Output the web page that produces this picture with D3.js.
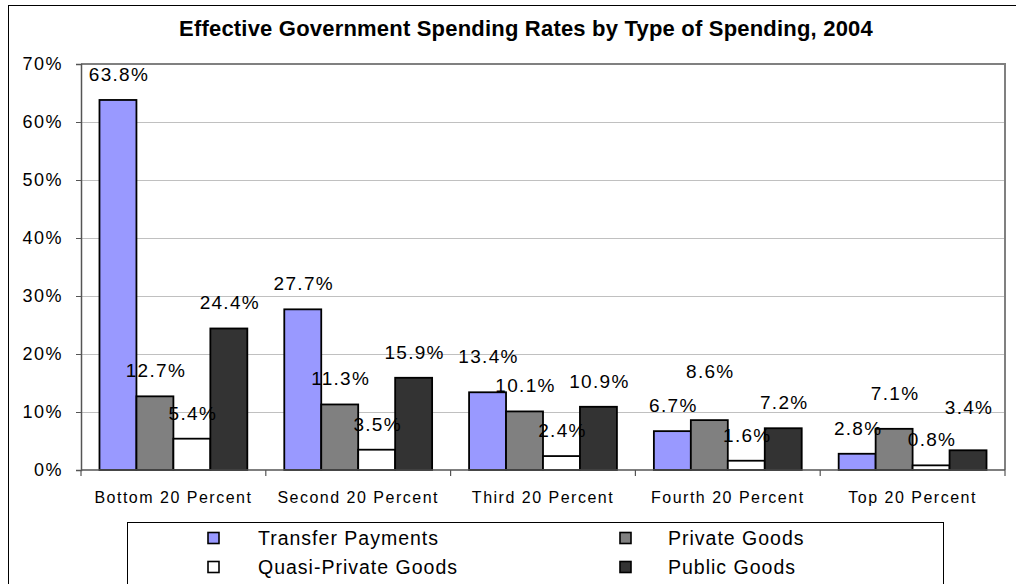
<!DOCTYPE html>
<html>
<head>
<meta charset="utf-8">
<script src="https://cdn.jsdelivr.net/npm/d3@7"></script>
<style>
  html, body { margin: 0; padding: 0; background: #fff; }
  svg { display: block; font-family: "Liberation Sans", Arial, sans-serif; }
</style>
</head>
<body>
<svg id="chart" width="1016" height="584"></svg>
<script>
const title = "Effective Government Spending Rates by Type of Spending, 2004";
const categories = ["Bottom 20 Percent", "Second 20 Percent", "Third 20 Percent", "Fourth 20 Percent", "Top 20 Percent"];
const seriesNames = ["Transfer Payments", "Private Goods", "Quasi-Private Goods", "Public Goods"];
const transferPayments = [63.8, 27.7, 13.4, 6.7, 2.8];
const privateGoods = [12.7, 11.3, 10.1, 8.6, 7.1];
const quasiPrivateGoods = [5.4, 3.5, 2.4, 1.6, 0.8];
const publicGoods = [24.4, 15.9, 10.9, 7.2, 3.4];
const yTicks = [0, 10, 20, 30, 40, 50, 60, 70];
const colors = ["#9999FF", "#808080", "#FFFFFF", "#333333"];

const seriesValues = [transferPayments, privateGoods, quasiPrivateGoods, publicGoods];
// extra upward shift (px) of some data labels, as placed in the original chart [series][category]
const labelLift = [
  [0, 0, 10, 0, 0],
  [0, 0, 0, 23, 10],
  [0, 0, 0, 0, 0],
  [0, 0, 0, 0, 17]
];

const svg = d3.select("#chart");
const plot = { left: 81, right: 1005, top: 64, bottom: 470 };

// outer frame (extends past the right and bottom edges)
svg.append("rect").attr("x", 8.5).attr("y", 5.5).attr("width", 1040).attr("height", 600)
  .attr("fill", "#fff").attr("stroke", "#000").attr("stroke-width", 1);

// title
svg.append("text").attr("x", 526).attr("y", 36).attr("text-anchor", "middle")
  .attr("font-weight", "bold").attr("font-size", 22).attr("letter-spacing", 0.2)
  .text(title);

const x0 = d3.scaleBand().domain(categories).range([plot.left, plot.right]).paddingInner(0).paddingOuter(0);
const x1 = d3.scaleBand().domain(seriesNames).range([0, x0.bandwidth()]).paddingInner(0).paddingOuter(0.5);
const y = d3.scaleLinear().domain([0, 70]).range([plot.bottom, plot.top]);

// gridlines
svg.append("g").selectAll("line").data(yTicks.filter(d => d > 0 && d < 70)).join("line")
  .attr("x1", plot.left).attr("x2", plot.right)
  .attr("y1", d => y(d) + 0.5).attr("y2", d => y(d) + 0.5)
  .attr("stroke", "#c0c0c0").attr("stroke-width", 1);

// plot border (top/right)
svg.append("path")
  .attr("d", `M${plot.left},${plot.top}H${plot.right}V${plot.bottom}`)
  .attr("fill", "none").attr("stroke", "#808080").attr("stroke-width", 2);

// y axis
const yAxis = d3.axisLeft(y).tickValues(yTicks).tickSize(5).tickPadding(13).tickFormat(d => d + "%");
const gy = svg.append("g").attr("transform", `translate(${plot.left},0)`).call(yAxis);
gy.select(".domain").attr("stroke", "#555").attr("stroke-width", 1.5);
gy.selectAll(".tick line").attr("stroke", "#555");
gy.selectAll("text").attr("font-size", 18).attr("fill", "#000")
  .attr("font-family", "'Liberation Sans', Arial, sans-serif").attr("letter-spacing", 1.5);

// bars
const groups = svg.append("g").selectAll("g").data(categories).join("g")
  .attr("transform", d => `translate(${x0(d)},0)`);

groups.each(function(cat, ci) {
  const g = d3.select(this);
  seriesNames.forEach((s, si) => {
    const v = seriesValues[si][ci];
    g.append("rect")
      .attr("x", x1(s)).attr("width", x1.bandwidth())
      .attr("y", y(v)).attr("height", y(0) - y(v))
      .attr("fill", colors[si]).attr("stroke", "#000").attr("stroke-width", 1.8);
  });
});

// x axis
const gx = svg.append("g").attr("transform", `translate(0,${plot.bottom})`);
gx.append("line").attr("x1", plot.left).attr("x2", plot.right).attr("y1", 0).attr("y2", 0)
  .attr("stroke", "#555").attr("stroke-width", 1.5);
gx.selectAll(".bt").data(d3.range(categories.length + 1)).join("line").attr("class", "bt")
  .attr("x1", i => plot.left + i * x0.step()).attr("x2", i => plot.left + i * x0.step())
  .attr("y1", 0).attr("y2", 6).attr("stroke", "#555").attr("stroke-width", 1.2);
gx.selectAll(".cl").data(categories).join("text").attr("class", "cl")
  .attr("x", d => x0(d) + x0.bandwidth() / 2).attr("y", 33)
  .attr("text-anchor", "middle").attr("font-size", 16).attr("letter-spacing", 1.5)
  .text(d => d);

// data labels
groups.each(function(cat, ci) {
  const g = d3.select(this);
  seriesNames.forEach((s, si) => {
    const v = seriesValues[si][ci];
    g.append("text")
      .attr("x", x1(s) + x1.bandwidth() / 2 + 1)
      .attr("y", y(v) - 19 - labelLift[si][ci])
      .attr("text-anchor", "middle").attr("font-size", 19).attr("letter-spacing", 1.3)
      .text(v.toFixed(1) + "%");
  });
});

// legend
const legend = svg.append("g");
legend.append("rect").attr("x", 127.5).attr("y", 522.5).attr("width", 816).attr("height", 80)
  .attr("fill", "#fff").attr("stroke", "#000").attr("stroke-width", 1);
const legendPos = [
  { mx: 208, tx: 258, cy: 538 },
  { mx: 620, tx: 668, cy: 538 },
  { mx: 208, tx: 258, cy: 567 },
  { mx: 620, tx: 668, cy: 567 }
];
seriesNames.forEach((s, si) => {
  const p = legendPos[si];
  legend.append("rect").attr("x", p.mx).attr("y", p.cy - 5.5).attr("width", 11).attr("height", 11)
    .attr("fill", colors[si]).attr("stroke", "#000").attr("stroke-width", 1.6);
  legend.append("text").attr("x", p.tx).attr("y", p.cy + 7).attr("font-size", 19.5)
    .attr("letter-spacing", 1)
    .text(s);
});
</script>
</body>
</html>
